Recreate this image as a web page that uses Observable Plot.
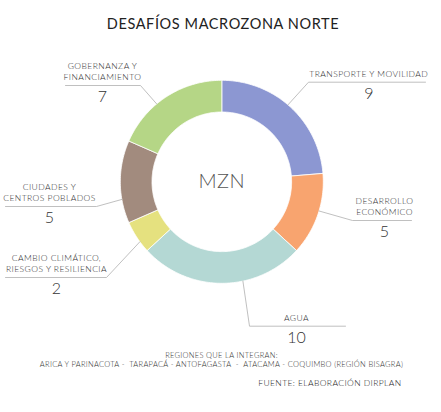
<!DOCTYPE html>
<html>
<head>
<meta charset="utf-8">
<script src="https://cdn.jsdelivr.net/npm/d3@7"></script>
<script src="https://cdn.jsdelivr.net/npm/@observablehq/plot@0.6"></script>
<style>
  html, body { margin: 0; padding: 0; background: #fff; }
  #chart { width: 441px; height: 412px; }
</style>
</head>
<body>
<div id="chart"></div>
<script>
// ---- Data ----
const categories = [
  "TRANSPORTE Y MOVILIDAD",
  "DESARROLLO ECONÓMICO",
  "AGUA",
  "CAMBIO CLIMÁTICO, RIESGOS Y RESILIENCIA",
  "CIUDADES Y CENTROS POBLADOS",
  "GOBERNANZA Y FINANCIAMIENTO"
];
const values = [9, 5, 10, 2, 5, 7];
const labelLines = [
  ["TRANSPORTE Y MOVILIDAD"],
  ["DESARROLLO", "ECONÓMICO"],
  ["AGUA"],
  ["CAMBIO CLIMÁTICO,", "RIESGOS Y RESILIENCIA"],
  ["CIUDADES Y", "CENTROS POBLADOS"],
  ["GOBERNANZA Y", "FINANCIAMIENTO"]
];
const centerLabel = "MZN";
const titleText = "DESAFÍOS MACROZONA NORTE";
const footerLines = [
  "REGIONES QUE LA INTEGRAN:",
  "ARICA Y PARINACOTA -  TARAPACÁ - ANTOFAGASTA  -  ATACAMA - COQUIMBO (REGIÓN BISAGRA)"
];
const sourceText = "FUENTE: ELABORACIÓN DIRPLAN";

// ---- Styles / layout ----
const colors = ["#8c97d2", "#f8a46f", "#b4d8d4", "#e5e17f", "#a28b7e", "#b5d686"];
const W = 441, H = 412;
const cx = 221.3, cy = 181.3, rOuter = 101.5, rInner = 69.8;
const labelLayout = [
  {anchorDeg: 40.7,  elbow: [308, 81.7], end: [425, 81.7], textX: 368.3},
  {anchorDeg: 106.7, elbow: [352, 220],  end: [411, 220],  textX: 384},
  {anchorDeg: 168,   elbow: [249, 325.7], end: [345, 325.7], textX: 296},
  {anchorDeg: 233.8, elbow: [106, 277],  end: [5, 277],    textX: 56},
  {anchorDeg: 260,   elbow: [96, 206],   end: [5, 206],    textX: 49},
  {anchorDeg: 320.1, elbow: [140, 85],   end: [65, 85],    textX: 102}
];

const pt = (deg, r) => {
  const a = deg * Math.PI / 180;
  return [cx + r * Math.sin(a), cy - r * Math.cos(a)];
};

// slice polygons from data
const total = d3.sum(values);
const slices = [];
let acc = 0;
categories.forEach((cat, i) => {
  const a0 = acc / total * 360;
  acc += values[i];
  const a1 = acc / total * 360;
  const n = Math.max(4, Math.ceil(a1 - a0));
  const pts = [];
  for (let k = 0; k <= n; k++) pts.push(pt(a0 + (a1 - a0) * k / n, rOuter));
  for (let k = n; k >= 0; k--) pts.push(pt(a0 + (a1 - a0) * k / n, rInner));
  pts.push(pts[0]);
  pts.forEach(([x, y]) => slices.push({cat, x, y}));
});

// leader lines
const leaders = [];
labelLayout.forEach((L, i) => {
  const [ax, ay] = pt(L.anchorDeg, rOuter);
  [[ax, ay], L.elbow, L.end].forEach(([x, y]) => leaders.push({i, x, y}));
});

// label texts
const labelTexts = [];
const numberTexts = [];
labelLayout.forEach((L, i) => {
  const uy = L.end[1];
  const lines = labelLines[i];
  lines.forEach((t, j) => {
    labelTexts.push({x: L.textX, y: uy - 8.3 - (lines.length - 1 - j) * 10.7, t});
  });
  numberTexts.push({x: L.textX, y: uy + 11.2, t: String(values[i])});
});

const font = "Lato, 'Open Sans', sans-serif";

const chart = Plot.plot({
  width: W, height: H,
  margin: 0,
  x: {domain: [0, W], range: [0, W], axis: null},
  y: {domain: [0, H], range: [0, H], axis: null},
  color: {domain: categories, range: colors},
  style: {fontFamily: font, background: "#fff"},
  marks: [
    Plot.line(slices, {x: "x", y: "y", z: "cat", fill: "cat", stroke: "#fff", strokeWidth: 0.8, curve: "linear"}),
    Plot.line(leaders, {x: "x", y: "y", z: "i", stroke: "#b0b0b0", strokeWidth: 0.8}),
    Plot.text(labelTexts, {x: "x", y: "y", text: "t", fontSize: 8.5, fontWeight: 300, fill: "#333", textAnchor: "middle"}),
    Plot.text(numberTexts, {x: "x", y: "y", text: "t", fontSize: 16, fontWeight: 300, fill: "#333", textAnchor: "middle"}),
    Plot.text([centerLabel], {x: () => cx, y: () => cy, text: d => d, fontSize: 20, fontWeight: 300, fill: "#555", textAnchor: "middle"}),
    Plot.text([titleText], {x: () => 222.5, y: () => 24, text: d => d, fontSize: 14.5, fontWeight: 400, fill: "#222", textAnchor: "middle"}),
    Plot.text(footerLines, {x: () => 221, y: (d, i) => 355 + i * 9.5, text: d => d, fontSize: 7.5, fontWeight: 300, fill: "#333", textAnchor: "middle"}),
    Plot.text([sourceText], {x: () => 401, y: () => 382.3, text: d => d, fontSize: 8.5, fontWeight: 300, fill: "#222", textAnchor: "end"})
  ]
});
// letter spacing per text mark (in mark order)
const spacing = [0.45, 0, 0.5, 0.6, 0.3, 0.4];
chart.querySelectorAll('g[aria-label="text"]').forEach((g, k) => {
  if (spacing[k] !== undefined) g.style.letterSpacing = spacing[k] + "px";
});
document.getElementById("chart").appendChild(chart);
</script>
</body>
</html>
